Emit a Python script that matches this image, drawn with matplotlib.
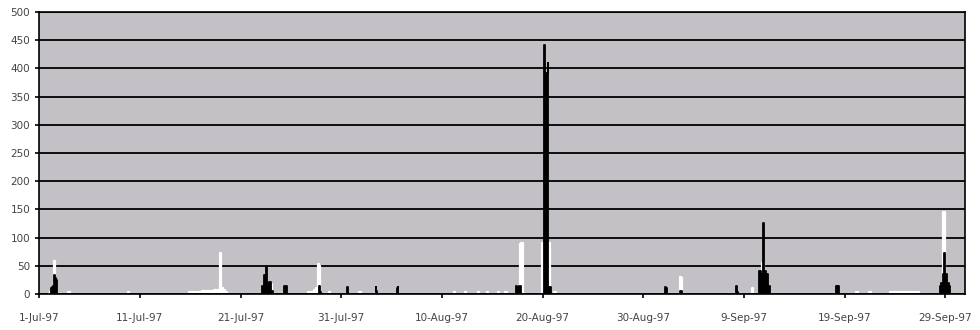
import numpy as np
import matplotlib
matplotlib.use("Agg")
import matplotlib.pyplot as plt
import matplotlib.dates as mdates
from datetime import datetime, timedelta

#data: days since 1-Jul-97 and readings for the two series
white_days = [1.0, 1.2, 1.45, 1.55, 1.65, 1.75, 1.85,
              2.85, 2.9, 3.0, 3.05,
              8.75, 8.8, 8.9, 8.95,
              14.8, 14.9, 15.4, 15.5, 15.9, 16.5, 17.0, 17.3, 17.5, 17.9, 18.0, 18.1, 18.4, 18.6, 18.8,
              22.95, 23.1, 23.2,
              26.65, 26.7, 26.8, 26.85,
              27.0, 27.1, 27.4, 27.6, 27.7, 27.85, 27.95,
              28.75, 28.8, 28.9, 28.95,
              31.75, 31.8, 31.9, 31.95,
              41.15, 41.2, 41.3, 41.35, 42.25, 42.3, 42.4, 42.45, 43.55, 43.6, 43.7, 43.75,
              44.45, 44.5, 44.6, 44.65, 45.55, 45.6, 45.7, 45.75, 46.25, 46.3, 46.4, 46.45,
              47.75, 47.8, 48.0, 48.05,
              49.9, 49.95, 50.05, 50.1,
              50.6, 50.68, 50.75, 50.8,
              51.15, 51.2, 51.3, 51.35,
              63.6, 63.65, 63.8, 63.85,
              70.75, 70.8, 70.9, 70.95,
              71.8, 71.88, 71.95, 72.0,
              81.15, 81.2, 81.3, 81.35, 82.45, 82.5, 82.6, 82.65,
              84.45, 84.5, 87.4, 87.45,
              89.75, 89.82, 89.92, 90.0]
white_vals = [0, 3, 5, 58, 20, 3, 0,
              0, 3, 3, 0,
              0, 3, 3, 0,
              0, 3, 3, 2, 4, 5, 6, 5, 8, 8, 72, 10, 8, 3, 0,
              0, 18, 0,
              0, 3, 3, 0,
              0, 4, 8, 10, 53, 50, 0,
              0, 3, 3, 0,
              0, 3, 3, 0,
              0, 3, 3, 0, 0, 3, 3, 0, 0, 3, 3, 0,
              0, 3, 3, 0, 0, 3, 3, 0, 0, 3, 3, 0,
              0, 88, 90, 0,
              0, 90, 90, 0,
              0, 90, 90, 0,
              0, 3, 3, 0,
              0, 30, 28, 0,
              0, 10, 10, 0,
              0, 55, 55, 0,
              0, 3, 3, 0, 0, 3, 3, 0,
              0, 3, 3, 0,
              0, 145, 145, 0]

black_days = [1.1, 1.15, 1.3, 1.45, 1.5, 1.6, 1.7, 1.8,
              22.1, 22.2, 22.4, 22.6, 22.7, 22.9, 23.1, 23.3,
              24.3, 24.35, 24.55, 24.6,
              27.75, 27.8, 27.9, 28.0,
              30.55, 30.6, 30.65, 30.7,
              33.4, 33.45, 33.55, 33.6,
              35.5, 35.55, 35.65, 35.7,
              47.3, 47.35, 47.6, 47.8, 47.95,
              50.1, 50.15, 50.25, 50.45, 50.55, 50.62, 50.75, 50.85,
              62.1, 62.15, 62.3, 62.35,
              63.65, 63.7, 63.8, 63.85,
              69.2, 69.25, 69.4, 69.45,
              71.5, 71.6, 71.8, 71.95, 72.05, 72.3, 72.5, 72.6,
              79.1, 79.15, 79.3, 79.45, 79.5,
              89.4, 89.5, 89.7, 89.85, 89.95, 90.05, 90.3, 90.5, 90.55]
black_vals = [0, 10, 12, 15, 33, 28, 25, 0,
              0, 15, 33, 48, 20, 22, 5, 0,
              0, 15, 15, 0,
              0, 14, 3, 0,
              0, 13, 13, 0,
              0, 13, 5, 0,
              0, 10, 13, 0,
              0, 15, 12, 14, 0,
              0, 442, 390, 392, 410, 10, 12, 0,
              0, 13, 10, 0,
              0, 5, 5, 0,
              0, 14, 3, 0,
              0, 40, 35, 125, 40, 35, 15, 0,
              0, 14, 10, 14, 0,
              0, 15, 20, 35, 72, 35, 20, 15, 0]

start = datetime(1997, 7, 1)
tick_days = [0, 10, 20, 30, 40, 50, 60, 70, 80, 90]

def to_dates(days):
    return [start + timedelta(days=d) for d in days]

plt.rcParams['font.family'] = ['DejaVu Sans']

fig = plt.figure(figsize=(9.8, 3.3), dpi=100)
ax = fig.add_axes([0.040, 0.109, 0.945, 0.855])
ax.set_facecolor('#c3c1c5')

wt = to_dates(white_days)
bt = to_dates(black_days)
ax.fill_between(wt, white_vals, 0, color='white', linewidth=0, step='mid', zorder=3)
ax.plot(wt, white_vals, color='white', lw=1.6, drawstyle='steps-mid', zorder=3)
ax.fill_between(bt, black_vals, 0, color='black', linewidth=0, step='mid', zorder=4)
ax.plot(bt, black_vals, color='black', lw=1.3, drawstyle='steps-mid', zorder=4)

ax.set_ylim(0, 500)
ax.set_yticks(np.arange(0, 501, 50))
ax.set_xlim(start, start + timedelta(days=92))
ax.set_xticks(to_dates(tick_days))
ax.xaxis.set_major_formatter(mdates.DateFormatter('%-d-%b-%y'))
ax.yaxis.grid(True, color='black', lw=1.3, zorder=2)
ax.set_axisbelow(True)
for s in ax.spines.values():
    s.set_color('black')
    s.set_linewidth(1.2)
    s.set_zorder(5)
ax.tick_params(axis='both', labelsize=7.5, colors='black', labelcolor='#444444',
               length=3, width=1.2, direction='out')
ax.tick_params(axis='x', pad=11)

fig.savefig('out.png', dpi=100)
